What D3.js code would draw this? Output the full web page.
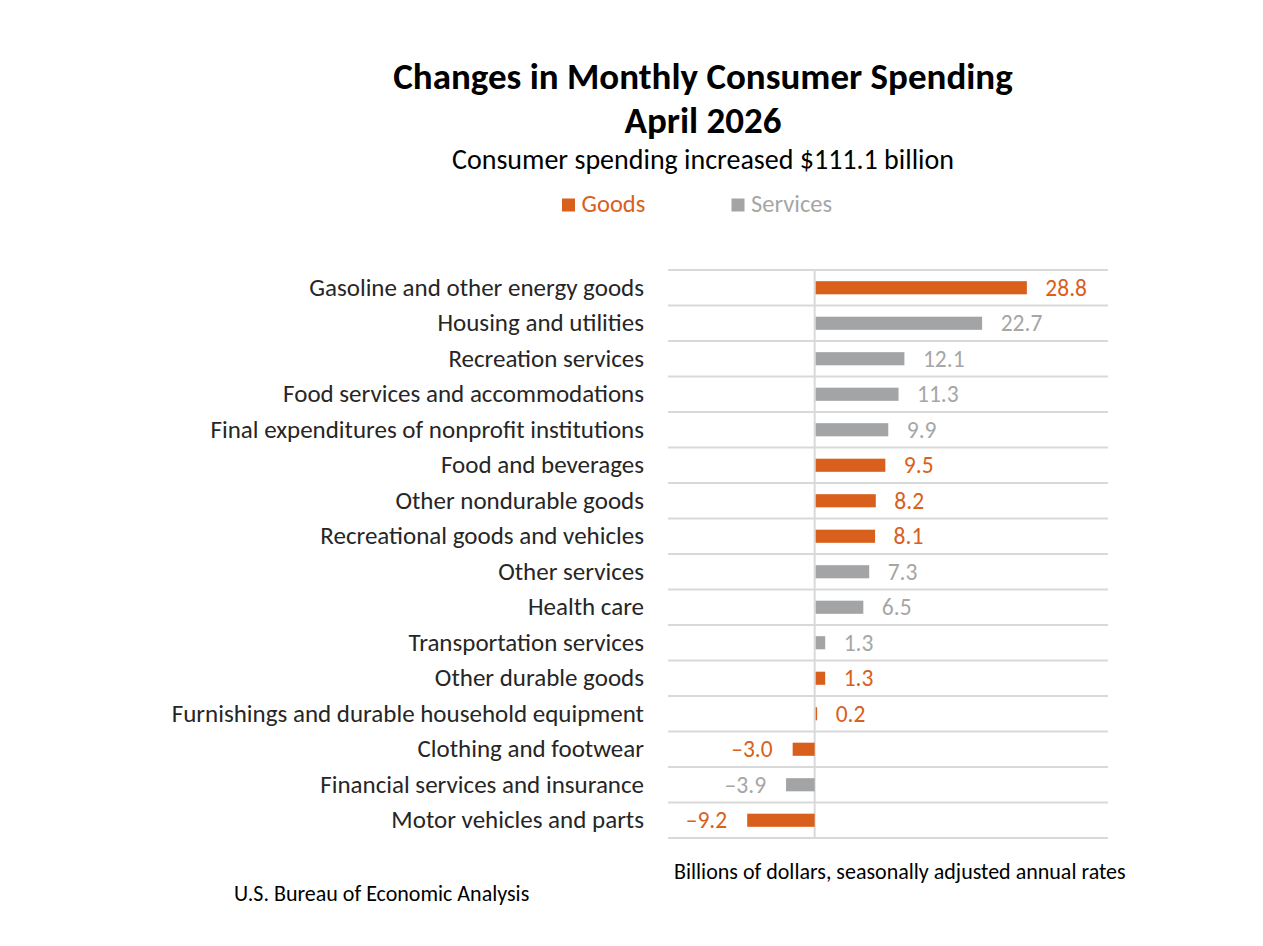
<!DOCTYPE html>
<html lang="en">
<head>
  <meta charset="UTF-8">
  <title>Changes in Monthly Consumer Spending</title>
  <style>
    body { margin: 0; background: #fff; }
    svg text { font-family: Calibri, Carlito, Lato, sans-serif; }
    .title { font-size: 37px; font-weight: bold; fill: #000; text-anchor: middle; }
    .subtitle { font-size: 28px; fill: #000; text-anchor: middle; }
    .cat { font-size: 25px; fill: #262626; text-anchor: end; }
    .val { font-size: 23.5px; }
    .note { font-size: 22px; fill: #000; }
  </style>
</head>
<body>
  <script src="https://d3js.org/d3.v7.min.js"></script>
  <script>
    var width = 1263
    var height = 946

    // data
    var categories = [
      'Gasoline and other energy goods',
      'Housing and utilities',
      'Recreation services',
      'Food services and accommodations',
      'Final expenditures of nonprofit institutions',
      'Food and beverages',
      'Other nondurable goods',
      'Recreational goods and vehicles',
      'Other services',
      'Health care',
      'Transportation services',
      'Other durable goods',
      'Furnishings and durable household equipment',
      'Clothing and footwear',
      'Financial services and insurance',
      'Motor vehicles and parts'
    ]
    var values = [28.8, 22.7, 12.1, 11.3, 9.9, 9.5, 8.2, 8.1, 7.3, 6.5, 1.3, 1.3, 0.2, -3.0, -3.9, -9.2]
    var types = ['Goods', 'Services', 'Services', 'Services', 'Services', 'Goods', 'Goods', 'Goods',
      'Services', 'Services', 'Services', 'Goods', 'Goods', 'Goods', 'Services', 'Goods']
    var seriesNames = ['Goods', 'Services']

    var barColor = {Goods: '#d9601c', Services: '#a2a4a6'}
    var textColor = {Goods: '#d9601c', Services: '#a6a6a6'}

    var plot = {left: 668, right: 1108, top: 270, bottom: 838}

    var svg = d3.select('body')
      .append('svg')
      .attr('width', width)
      .attr('height', height)

    var xScale = d3.scaleLinear()
      .domain([-20, 40])
      .range([plot.left, plot.right])
    var yScale = d3.scaleBand()
      .domain(categories)
      .range([plot.top, plot.bottom])
      .padding(0)

    var barH = yScale.bandwidth() * 0.37

    // titles
    svg.append('text').attr('class', 'title').attr('x', 703).attr('y', 88.5)
      .text('Changes in Monthly Consumer Spending')
    svg.append('text').attr('class', 'title').attr('x', 703).attr('y', 133)
      .text('April 2026')
    svg.append('text').attr('class', 'subtitle').attr('x', 703).attr('y', 169)
      .text('Consumer spending increased $111.1 billion')

    // legend
    var legendX = {Goods: 562, Services: 731.5}
    var legend = svg.selectAll('.legend')
      .data(seriesNames)
      .enter()
      .append('g')
      .attr('class', 'legend')
      .attr('transform', function (d) { return 'translate(' + legendX[d] + ',205)' })
    legend.append('rect')
      .attr('x', 0).attr('y', -6.5).attr('width', 13).attr('height', 13)
      .attr('fill', function (d) { return barColor[d] })
    legend.append('text')
      .attr('x', 19.5).attr('y', 7)
      .style('font-size', '24.5px')
      .attr('fill', function (d) { return textColor[d] })
      .text(function (d) { return d })

    // gridlines between rows
    var edges = categories.map(function (c) { return yScale(c) }).concat([plot.bottom])
    svg.selectAll('.grid')
      .data(edges)
      .enter()
      .append('line')
      .attr('x1', plot.left).attr('x2', plot.right)
      .attr('y1', function (d) { return d }).attr('y2', function (d) { return d })
      .attr('stroke', '#d9d9d9')
      .attr('stroke-width', 2)

    // zero line
    svg.append('line')
      .attr('x1', xScale(0)).attr('x2', xScale(0))
      .attr('y1', plot.top).attr('y2', plot.bottom)
      .attr('stroke', '#d9d9d9')
      .attr('stroke-width', 2)

    // bars
    svg.selectAll('.bar')
      .data(values)
      .enter()
      .append('rect')
      .attr('class', 'bar')
      .attr('x', function (d) { return d >= 0 ? xScale(0) + 1 : xScale(d) })
      .attr('y', function (d, i) { return yScale(categories[i]) + (yScale.bandwidth() - barH) / 2 })
      .attr('width', function (d) { return Math.abs(xScale(d) - xScale(0)) })
      .attr('height', barH)
      .attr('fill', function (d, i) { return barColor[types[i]] })

    // value labels
    svg.selectAll('.val')
      .data(values)
      .enter()
      .append('text')
      .attr('class', 'val')
      .attr('x', function (d) { return d >= 0 ? xScale(d) + 19.5 : xScale(d) - 20 })
      .attr('y', function (d, i) { return yScale(categories[i]) + yScale.bandwidth() / 2 + 8 })
      .attr('text-anchor', function (d) { return d >= 0 ? 'start' : 'end' })
      .attr('fill', function (d, i) { return textColor[types[i]] })
      .text(function (d) { return d < 0 ? '\u2013' + Math.abs(d).toFixed(1) : d.toFixed(1) })

    // category labels
    svg.selectAll('.cat')
      .data(categories)
      .enter()
      .append('text')
      .attr('class', 'cat')
      .attr('x', 644)
      .attr('y', function (d) { return yScale(d) + yScale.bandwidth() / 2 + 8 })
      .text(function (d) { return d })

    // notes
    svg.append('text').attr('class', 'note').attr('x', 674).attr('y', 879)
      .text('Billions of dollars, seasonally adjusted annual rates')
    svg.append('text').attr('class', 'note').attr('x', 234).attr('y', 901)
      .text('U.S. Bureau of Economic Analysis')
  </script>
</body>
</html>
